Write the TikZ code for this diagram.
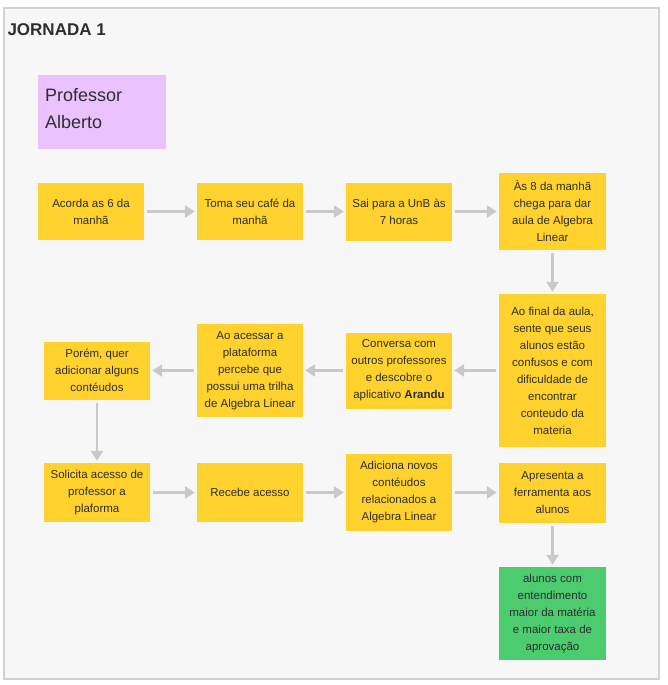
\documentclass[tikz,border=0pt]{standalone}
\usepackage{fontspec}
\setmainfont{Liberation Sans}
\usetikzlibrary{arrows.meta,positioning}

\definecolor{fundo}{HTML}{F7F7F7}
\definecolor{borda}{HTML}{D2D2D2}
\definecolor{amarelo}{HTML}{FFD22E}
\definecolor{lilas}{HTML}{E9C2FF}
\definecolor{verde}{HTML}{4CCB6F}
\definecolor{seta}{HTML}{C9C9C9}
\definecolor{texto}{HTML}{2E2E2E}

\tikzset{
  nota/.style={rectangle, fill=amarelo, align=center, text=texto, inner sep=2pt,
    font=\fontsize{11.5}{17}\selectfont},
  fluxo/.style={draw=seta, line width=2.5pt, -{Triangle[length=10pt,width=12pt]},
    shorten <=3pt, shorten >=2pt}
}

\begin{document}
\begin{tikzpicture}[x=1pt,y=-1pt]
    \useasboundingbox[fill=white] (0,0) rectangle (667,685);
    \draw[fill=fundo, draw=borda, line width=1.5pt] (4,8) rectangle (659,679);

    \node[anchor=west, text=texto, font=\fontsize{17}{20}\selectfont\bfseries] (titulo) at (4,30) {JORNADA 1};
    \node[rectangle, fill=lilas, minimum width=128pt, minimum height=74pt,
      label={[anchor=north west, align=left, text=texto, inner sep=0pt, xshift=7pt, yshift=-13pt,
        font=\fontsize{18}{27}\selectfont]north west:Professor\\Alberto}] (prof) at (102,112) {};

    \node[nota, minimum width=106pt, minimum height=57pt] (a1) at (91,211.5) {Acorda as 6 da\\manhã};
    \node[nota, minimum width=106pt, minimum height=57pt] (a2) at (250,211.5) {Toma seu café da\\manhã};
    \node[nota, minimum width=106pt, minimum height=58pt] (a3) at (399,211.5) {Sai para a UnB às\\7 horas};
    \node[nota, minimum width=107pt, minimum height=77pt] (a4) at (552.5,211.5) {Às 8 da manhã\\chega para dar\\aula de Algebra\\Linear};
    \node[nota, minimum width=107pt, minimum height=153pt] (a5) at (552.5,370.5) {Ao final da aula,\\sente que seus\\alunos estão\\confusos e com\\dificuldade de\\encontrar\\conteudo da\\materia};
    \node[nota, minimum width=106pt, minimum height=76pt] (a6) at (399,370.5) {Conversa com\\outros professores\\e descobre o\\aplicativo \textbf{Arandu}};
    \node[nota, minimum width=106pt, minimum height=93pt] (a7) at (250,370.5) {Ao acessar a\\plataforma\\percebe que\\possui uma trilha\\de Algebra Linear};
    \node[nota, minimum width=106pt, minimum height=58pt] (a8) at (97,370.5) {Porém, quer\\adicionar alguns\\contéudos};

    \node[nota, minimum width=106pt, minimum height=59pt] (b1) at (97,492.5) {Solicita acesso de\\professor a\\plaforma};
    \node[nota, minimum width=106pt, minimum height=59pt] (b2) at (250,492.5) {Recebe acesso};
    \node[nota, minimum width=106pt, minimum height=77pt] (b3) at (399,492.5) {Adiciona novos\\contéudos\\relacionados a\\Algebra Linear};
    \node[nota, minimum width=107pt, minimum height=60pt] (b4) at (552.5,492.5) {Apresenta a\\ferramenta aos\\alunos};
    \node[nota, fill=verde, minimum width=107pt, minimum height=93pt] (b5) at (552.5,613.5) {alunos com\\entendimento\\maior da matéria\\e maior taxa de\\aprovação};

    \path[fluxo] (a1) -- (a2);
    \path[fluxo] (a2) -- (a3);
    \path[fluxo] (a3) -- (a4);
    \path[fluxo] (a4) -- (a5);
    \path[fluxo] (a5) -- (a6);
    \path[fluxo] (a6) -- (a7);
    \path[fluxo] (a7) -- (a8);
    \path[fluxo] (a8) -- (b1);
    \path[fluxo] (b1) -- (b2);
    \path[fluxo] (b2) -- (b3);
    \path[fluxo] (b3) -- (b4);
    \path[fluxo] (b4) -- (b5);
\end{tikzpicture}
\end{document}
